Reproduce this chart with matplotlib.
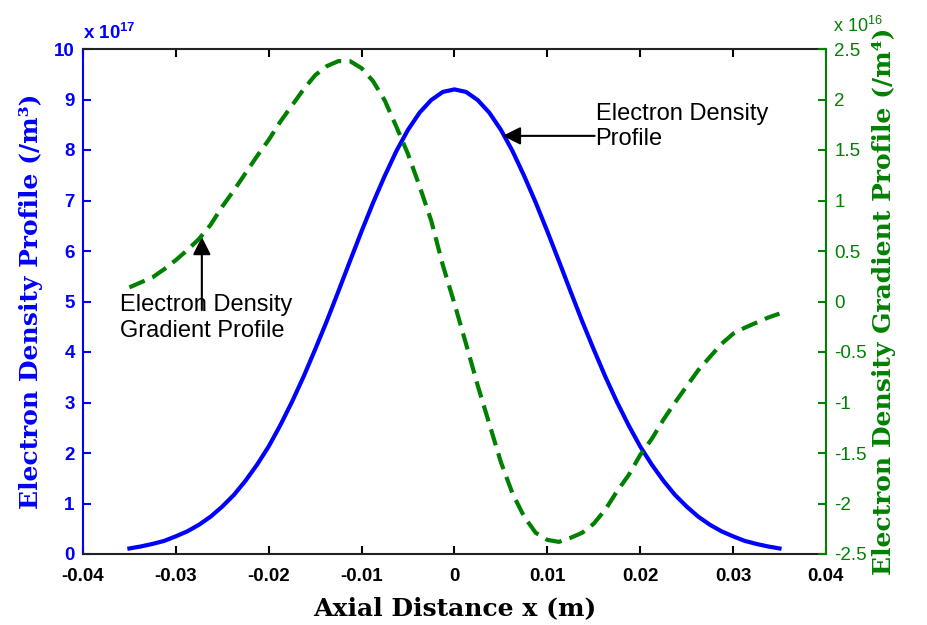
import numpy as np
import matplotlib.pyplot as plt

plt.rcParams['font.family'] = ['Liberation Sans', 'DejaVu Sans']
plt.rcParams['mathtext.fontset'] = 'custom'
plt.rcParams['mathtext.rm'] = 'Liberation Sans'
plt.rcParams['mathtext.bf'] = 'Liberation Sans:bold'

# axial positions (m)
x = np.linspace(-0.035, 0.035, 57)

# electron density, units of 1e17 /m^3
density = [0.11, 0.15, 0.20, 0.26, 0.35, 0.45, 0.58, 0.74, 0.94, 1.17, 1.45, 1.77, 2.13,
           2.55, 3.01, 3.51, 4.05, 4.61, 5.20, 5.80, 6.39, 6.96, 7.49, 7.98, 8.40, 8.74,
           8.99, 9.15, 9.20,
           9.15, 8.99, 8.74, 8.40, 7.98, 7.49, 6.96, 6.39, 5.80, 5.20, 4.61, 4.05, 3.51,
           3.01, 2.55, 2.13, 1.77, 1.45, 1.17, 0.94, 0.74, 0.58, 0.45, 0.35, 0.26, 0.20,
           0.15, 0.11]

# electron density gradient, units of 1e16 /m^4
gradient = [0.14, 0.19, 0.24, 0.32, 0.41, 0.51, 0.62, 0.76, 0.94, 1.10, 1.27, 1.44, 1.60,
            1.78, 1.94, 2.10, 2.24, 2.33, 2.38, 2.38, 2.31, 2.18, 1.99, 1.73, 1.46, 1.14,
            0.80, 0.36, -0.02,
            -0.42, -0.83, -1.21, -1.59, -1.90, -2.13, -2.29, -2.36, -2.38, -2.34, -2.29,
            -2.20, -2.06, -1.88, -1.72, -1.52, -1.36, -1.17, -1.00, -0.84, -0.68, -0.55,
            -0.42, -0.32, -0.26, -0.21, -0.16, -0.12]

xticks = [-0.04, -0.03, -0.02, -0.01, 0, 0.01, 0.02, 0.03, 0.04]
xlabels = ['-0.04', '-0.03', '-0.02', '-0.01', '0', '0.01', '0.02', '0.03', '0.04']
lticks = list(range(11))
rticks = [-2.5, -2, -1.5, -1, -0.5, 0, 0.5, 1, 1.5, 2, 2.5]
rlabels = ['-2.5', '-2', '-1.5', '-1', '-0.5', '0', '0.5', '1', '1.5', '2', '2.5']

blue = '#0000ff'
green = '#008000'

fig = plt.figure(figsize=(9.28, 6.25), dpi=100)
ax1 = fig.add_axes([0.0894, 0.1136, 0.8006, 0.808])
ax2 = ax1.twinx()

ax1.plot(x, density, color=blue, lw=3)
ax2.plot(x, gradient, color=green, lw=3, linestyle=(0, (4, 2)))

ax1.set_xlim(-0.04, 0.04)
ax1.set_ylim(0, 10)
ax2.set_ylim(-2.5, 2.5)

ax1.set_xticks(xticks, xlabels, fontweight='bold', fontsize=13.5)
ax1.set_yticks(lticks, [str(t) for t in lticks], fontweight='bold', fontsize=13.5)
ax2.set_yticks(rticks, rlabels, fontsize=13.5)

ax1.tick_params(axis='x', top=True, direction='in', length=6, width=1.5, pad=10)
ax1.tick_params(axis='y', direction='in', length=6, width=1.5, colors=blue, pad=6)
ax2.tick_params(axis='y', direction='in', length=6, width=1.5, colors=green, pad=6)

for s in ['top', 'bottom']:
    ax1.spines[s].set_linewidth(1.5)
    ax1.spines[s].set_color('#222222')
ax1.spines['left'].set_color(blue)
ax1.spines['left'].set_linewidth(1.5)
ax1.spines['right'].set_visible(False)
for s in ['left', 'top', 'bottom']:
    ax2.spines[s].set_visible(False)
ax2.spines['right'].set_color(green)
ax2.spines['right'].set_linewidth(1.5)

ax1.set_xlabel('Axial Distance x (m)', family='DejaVu Serif', fontweight='bold',
               fontsize=18, labelpad=8)
ax1.set_ylabel('Electron Density Profile (/m³)', family='DejaVu Serif', fontweight='bold',
               fontsize=18, color=blue, labelpad=8)
ax2.set_ylabel('Electron Density Gradient Profile (/m⁴)', family='DejaVu Serif',
               fontweight='bold', fontsize=18, color=green, labelpad=4)

ax1.text(0.0, 1.012, r'x 10$^{\mathbf{17}}$', transform=ax1.transAxes, color=blue,
         fontweight='bold', fontsize=13.5, ha='left', va='bottom')
ax2.text(1.01, 1.025, r'x 10$^{16}$', transform=ax2.transAxes, color=green,
         fontsize=13, ha='left', va='bottom')

arrow = dict(arrowstyle='-|>,head_length=0.6,head_width=0.3', color='k', lw=1.5,
             mutation_scale=18, shrinkA=0, shrinkB=0)
ax1.annotate('', xy=(0.0052, 8.28), xytext=(0.0151, 8.28), arrowprops=arrow)
ax1.text(0.0152, 8.10, 'Electron Density\nProfile', fontsize=17, ha='left', va='baseline')
ax1.annotate('', xy=(-0.0272, 6.28), xytext=(-0.0272, 4.83), arrowprops=arrow)
ax1.text(-0.0360, 4.30, 'Electron Density\nGradient Profile', fontsize=17, ha='left',
         va='baseline')

fig.savefig('out.png', dpi=100)
